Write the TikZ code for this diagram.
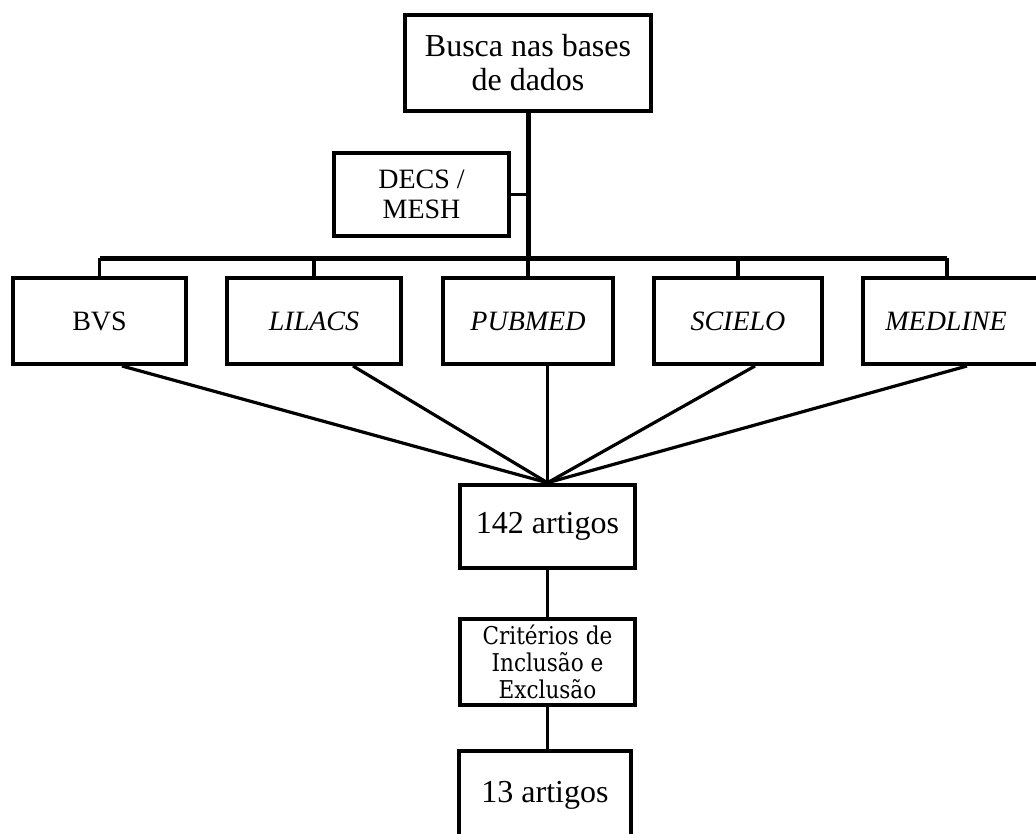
\documentclass[tikz,border=0pt]{standalone}
\usepackage{fontspec}
\setmainfont{Liberation Serif}
\newfontfamily\critfont[FakeStretch=0.88]{DejaVu Serif}
\usetikzlibrary{calc}
\begin{document}
\begin{tikzpicture}[x=1pt,y=-1pt,
  box/.style={draw, line width=4pt, rectangle, inner sep=0pt, align=center},
  bigtxt/.style={font=\fontsize{32}{34}\selectfont},
  midtxt/.style={font=\fontsize{28}{30}\selectfont},
  crittxt/.style={font=\critfont\fontsize{24.5}{27}\selectfont},
  rowbox/.style={box, midtxt, minimum height=86pt},
  link/.style={line width=3pt},
  trunk/.style={line width=5pt},
  bus/.style={line width=4.5pt},
  fan/.style={line width=3.2pt},
  thin/.style={line width=2.8pt}]
\useasboundingbox (0,0) rectangle (1036,834);

\node[box, bigtxt, minimum width=246pt, minimum height=96pt] (top) at (528,63) {Busca nas bases\\de dados};
\node[box, midtxt, minimum width=175pt, minimum height=83pt] (decs) at (421.5,194.5) {DECS /\\MESH};

\node[rowbox, minimum width=173.5pt] (bvs) at (99.5,321) {BVS};
\node[rowbox, minimum width=174pt] (lilacs) at (314,321) {\textit{LILACS}};
\node[rowbox, minimum width=170pt] (pubmed) at (528,321) {\textit{PUBMED}};
\node[rowbox, minimum width=168pt] (scielo) at (738,321) {\textit{SCIELO}};
\node[rowbox, minimum width=200pt, label={[midtxt, xshift=-17pt]center:\textit{MEDLINE}}] (medline) at (963,321) {};

\node[box, bigtxt, minimum width=175pt, minimum height=83.5pt] (a142) at (547.5,526.5) {142 artigos};
\node[box, crittxt, minimum width=175pt, minimum height=86pt] (crit) at (547.5,662) {Critérios de\\Inclusão e\\Exclusão};
\node[box, bigtxt, minimum width=172pt, minimum height=88pt] (a13) at (545,795) {13 artigos};

\coordinate (busy) at (0,258.5);
\coordinate (mdrop) at ($(medline.north)+(-16,0)$);

% trunk and DECS link
\draw[trunk] (top.south) -- (top.south |- busy);
\draw[link] (decs.east) -- (decs.east -| top.south);
% bus
\draw[bus] (bvs.north |- busy) -- (mdrop |- busy);
\foreach \n in {bvs,lilacs,pubmed,scielo}
  \draw[fan] (\n.north |- busy) -- (\n.north);
\draw[fan] (mdrop |- busy) -- (mdrop);

% fan-in lines
\draw[fan] ($(bvs.south)+(22.5,0)$) -- (a142.north);
\draw[fan] ($(lilacs.south)+(39,0)$) -- (a142.north);
\draw[fan] (pubmed.south -| a142.north) -- (a142.north);
\draw[fan] ($(scielo.south)+(17,0)$) -- (a142.north);
\draw[fan] ($(medline.south)+(4,0)$) -- (a142.north);

% lower chain
\draw[thin] (a142.south) -- (crit.north);
\draw[thin] (crit.south) -- (crit.south |- a13.north);
\end{tikzpicture}
\end{document}
